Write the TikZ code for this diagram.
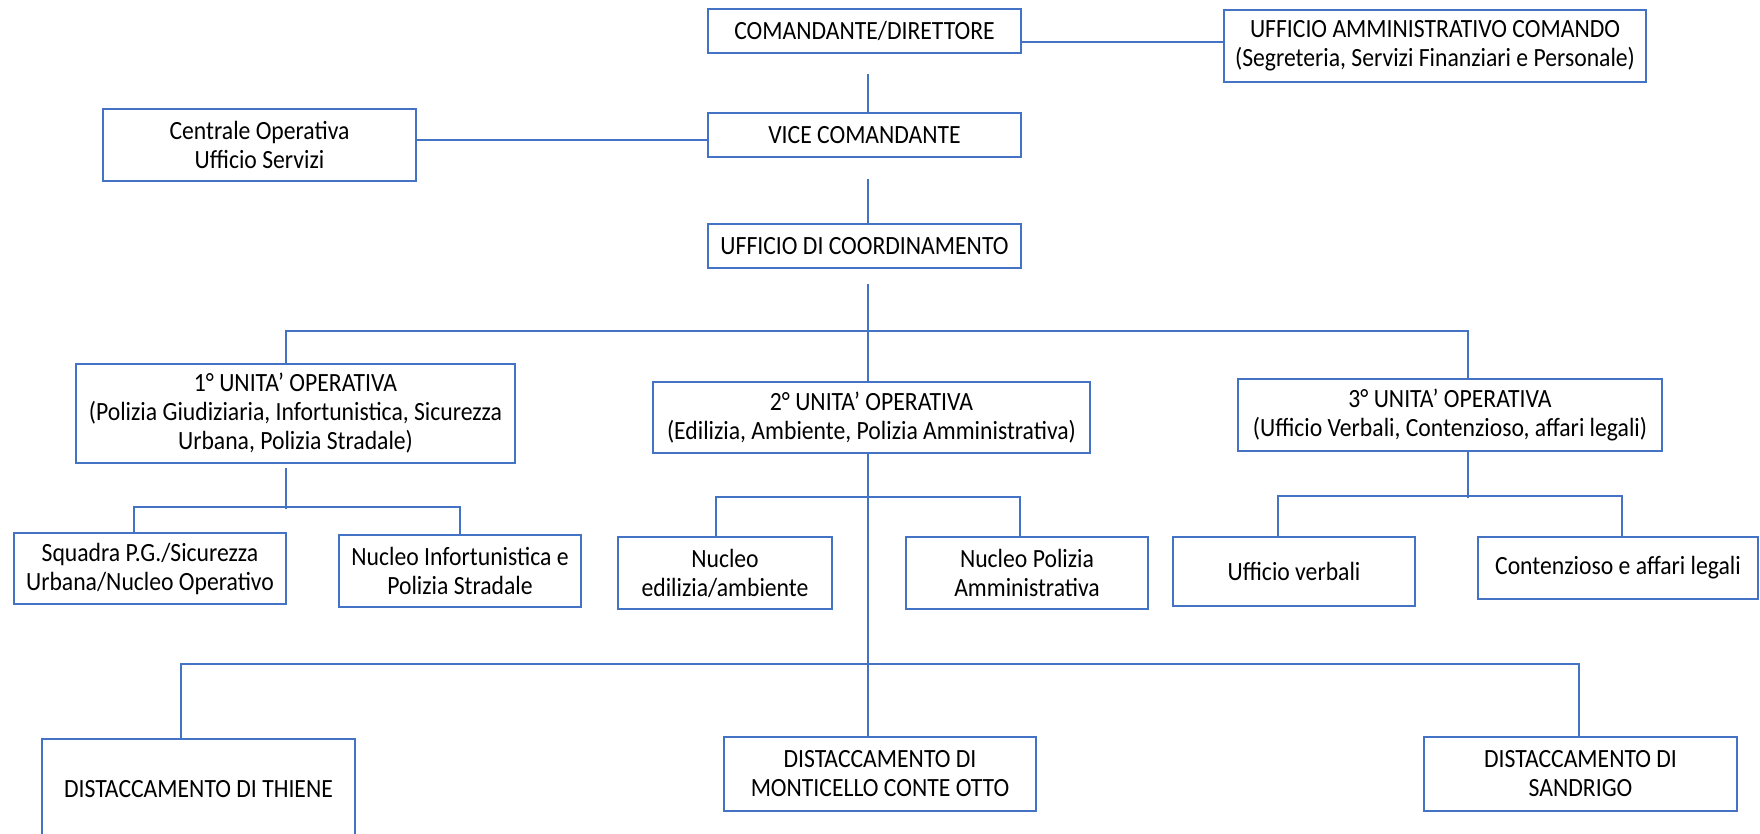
\documentclass[tikz,border=0pt]{standalone}
\usepackage{fontspec}
\setmainfont{Carlito}[FakeStretch=0.9]
\definecolor{orgblue}{HTML}{4472C4}

\begin{document}
\begin{tikzpicture}[x=1pt,y=-1pt,
	box/.style={draw=orgblue,line width=2pt,align=center,inner sep=0pt,font=\fontsize{26.3}{29}\selectfont},
	link/.style={draw=orgblue,line width=2pt}]
	\useasboundingbox (0,0) rectangle (1760,833);
	\coordinate (axis) at (868,0);
	% vertici
	\node[box,minimum width=313,minimum height=44] (cmd) at (864.5,31) {COMANDANTE/DIRETTORE};
	\node[box,minimum width=422,minimum height=72] (amm) at (1435,46) {UFFICIO AMMINISTRATIVO COMANDO\\(Segreteria, Servizi Finanziari e Personale)};
	\node[box,minimum width=313,minimum height=44] (vice) at (864.5,135) {VICE COMANDANTE};
	\node[box,minimum width=313,minimum height=72] (cen) at (259.5,145) {Centrale Operativa\\Ufficio Servizi};
	\node[box,minimum width=313,minimum height=44] (coord) at (864.5,246) {UFFICIO DI COORDINAMENTO};
	% unita' operative
	\node[box,minimum width=439,minimum height=99] (uo1) at (295.5,413.5) {1° UNITA’ OPERATIVA\\(Polizia Giudiziaria, Infortunistica, Sicurezza\\Urbana, Polizia Stradale)};
	\node[box,minimum width=437,minimum height=71] (uo2) at (871.5,417.5) {2° UNITA’ OPERATIVA\\(Edilizia, Ambiente, Polizia Amministrativa)};
	\node[box,minimum width=424,minimum height=72] (uo3) at (1450,415) {3° UNITA’ OPERATIVA\\(Ufficio Verbali, Contenzioso, affari legali)};
	% nuclei
	\node[box,minimum width=272,minimum height=71] (squ) at (150,568.5) {Squadra P.G./Sicurezza\\Urbana/Nucleo Operativo};
	\node[box,minimum width=242,minimum height=72] (ninf) at (460,571) {Nucleo Infortunistica e\\Polizia Stradale};
	\node[box,minimum width=214,minimum height=72] (ned) at (725,573) {Nucleo\\edilizia/ambiente};
	\node[box,minimum width=242,minimum height=72] (npa) at (1027,573) {Nucleo Polizia\\Amministrativa};
	\node[box,minimum width=242,minimum height=69] (uver) at (1294,571.5) {Ufficio verbali};
	\node[box,minimum width=280,minimum height=62] (cont) at (1618,568) {Contenzioso e affari legali};
	% distaccamenti
	\node[box,minimum width=313,minimum height=100] (thi) at (198.5,789) {DISTACCAMENTO DI THIENE};
	\node[box,minimum width=312,minimum height=74] (mon) at (880,774) {DISTACCAMENTO DI\\MONTICELLO CONTE OTTO};
	\node[box,minimum width=313,minimum height=74] (san) at (1580.5,774) {DISTACCAMENTO DI\\SANDRIGO};
	% collegamenti
	\draw[link] ([yshift=4pt]amm.west) -- ([yshift=4pt]amm.west -| cmd.east);
	\draw[link] ([yshift=-20pt]cmd.south -| axis) -- (axis |- vice.north);
	\draw[link] ([yshift=5pt]cen.east) -- ([yshift=5pt]cen.east -| vice.west);
	\draw[link] ([yshift=-21pt]vice.south -| axis) -- (axis |- coord.north);
	\draw[link] ([yshift=-15pt]coord.south -| axis) -- (axis |- uo2.north);
	\draw[link] ([xshift=-10pt]uo1.north) |- ++(0,-32) -| ([xshift=18pt]uo3.north);
	\draw[link] (uo2.south -| axis) -- (axis |- mon.north);
	\draw[link] ([xshift=-10pt,yshift=-4pt]uo1.south) -- ++(0,41);
	\draw[link] ([xshift=-16pt]squ.north) |- ++(0,-25) -| (ninf.north);
	\draw[link] ([xshift=-9pt]ned.north) |- ++(0,-39) -| ([xshift=-7pt]npa.north);
	\draw[link] ([xshift=18pt]uo3.south) -- ++(0,46);
	\draw[link] ([xshift=-16pt]uver.north) |- ++(0,-40) -| ([xshift=4pt]cont.north);
	\draw[link] ([xshift=-17.5pt]thi.north) |- ++(0,-74) -| ([xshift=-1.5pt]san.north);
\end{tikzpicture}
\end{document}
